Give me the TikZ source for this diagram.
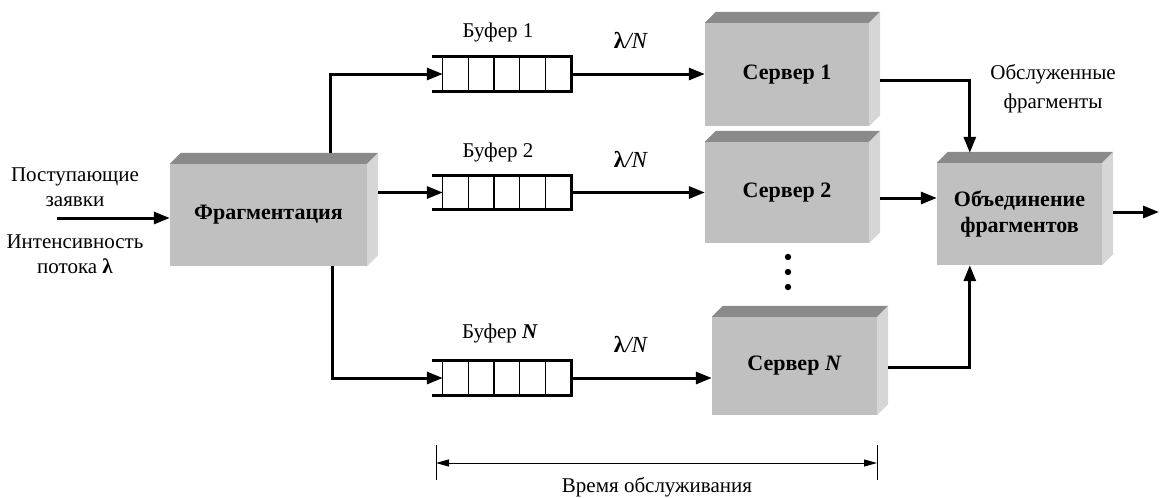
\documentclass[tikz,border=0pt]{standalone}
\usepackage{fontspec}
\setmainfont{Liberation Serif}
\usetikzlibrary{arrows.meta,calc}

\definecolor{frontface}{RGB}{192,192,192}
\definecolor{topface}{RGB}{138,138,138}
\definecolor{sideface}{RGB}{214,214,214}

\tikzset{
  block/.style={fill=frontface, inner sep=0pt, align=center,
    font=\fontsize{22}{26}\selectfont\bfseries},
  bufcell/.style={inner sep=0pt, minimum width=128pt, minimum height=34pt},
  lbl/.style={inner sep=0pt, align=center, font=\fontsize{21}{25}\selectfont},
  rate/.style={inner sep=0pt, font=\fontsize{23}{27}\selectfont},
  arr/.style={line width=3pt, -{Triangle[length=16pt,width=12pt]}},
  dim/.style={line width=1pt, {Triangle[length=13pt,width=7pt]}-{Triangle[length=13pt,width=7pt]}},
}

% 3D block: name, centre x, centre y, width, height, text
\newcommand\blockbox[6]{%
  \node[block, minimum width=#4pt, minimum height=#5pt] (#1) at (#2,#3) {#6};
  \fill[topface] (#1.north west) -- ++(11,-11) -- ($(#1.north east)+(11,-11)$)
    -- (#1.north east) -- cycle;
  \fill[sideface] (#1.north east) -- ++(11,-11) -- ($(#1.south east)+(11,-11)$)
    -- (#1.south east) -- cycle;
}

% queue buffer: name, centre x, centre y
\newcommand\qbuffer[3]{%
  \node[bufcell] (#1) at (#2,#3) {};
  \draw[line width=3pt] ([xshift=-11pt]#1.north west) -- (#1.north east)
    -- (#1.south east) -- ([xshift=-11pt]#1.south west);
  \foreach \i in {0,...,4}
    \draw[line width=1.2pt] ($(#1.north west)+(\i*25.6,0)$) -- ($(#1.south west)+(\i*25.6,0)$);
}

\begin{document}
\begin{tikzpicture}[x=1pt,y=-1pt]
\useasboundingbox (0,0) rectangle (1160,498);

% processing blocks
\blockbox{frag}{268.5}{215}{197}{102}{Фрагментация}
\blockbox{srv1}{787}{74.5}{164}{103}{Сервер 1}
\blockbox{srv2}{787}{192.5}{164}{101}{Сервер 2}
\blockbox{srvN}{794.5}{366}{165}{98}{Сервер \textit{N}}
\blockbox{mrg}{1019.5}{214}{165}{102}{Объединение\\фрагментов}

% buffers
\qbuffer{buf1}{507}{74}
\qbuffer{buf2}{507}{192.5}
\qbuffer{bufN}{507}{378}

% labels
\node[lbl] (inlbl) at (75,187) {Поступающие\\заявки};
\node[lbl] (ratelbl) at (75,254) {Интенсивность\\потока \textbf{λ}};
\node[lbl] (b1lbl) at (498,32) {Буфер 1};
\node[lbl] (b2lbl) at (498,152) {Буфер 2};
\node[lbl] (bNlbl) at (500,333) {Буфер \textbf{\textit{N}}};
\node[rate] (r1) at (631,41) {\textbf{λ}\textit{/N}};
\node[rate] (r2) at (631,160) {\textbf{λ}\textit{/N}};
\node[rate] (rN) at (631,345) {\textbf{λ}\textit{/N}};
\node[lbl, font=\fontsize{21}{29}\selectfont] (donelbl) at (1053,89) {Обслуженные\\фрагменты};

% continuation dots between servers
\foreach \y [count=\k] in {257,272,287}
  \fill (788,\y) circle[radius=3.2pt] coordinate (dot\k);

% incoming requests
\coordinate (src) at (57,218);
\draw[arr] (src) -- (src -| frag.west);

% fragmentation to buffers
\coordinate (fo1) at ($(frag.north west)+(161,-11)$);
\coordinate (fo2) at ($(frag.east)+(11,-22.5)$);
\coordinate (foN) at ($(frag.south west)+(163,0)$);
\draw[arr] (fo1) |- (buf1.west);
\draw[arr] (fo2) -- (fo2 -| buf2.west);
\draw[arr] (foN) |- (bufN.west);

% buffers to servers
\draw[arr] (buf1.east) -- (buf1.east -| srv1.west);
\draw[arr] (buf2.east) -- (buf2.east -| srv2.west);
\draw[arr] (bufN.east) -- (bufN.east -| srvN.west);

% servers to merging block
\coordinate (s1o) at ($(srv1.east)+(11,5.5)$);
\coordinate (s2o) at ($(srv2.east)+(11,5.5)$);
\coordinate (sNo) at ($(srvN.east)+(11,1)$);
\coordinate (mtop) at ($(mrg.north west)+(33,-10)$);
\coordinate (mbot) at ($(mrg.south west)+(33,0)$);
\draw[arr] (s1o) -| (mtop);
\draw[arr] (s2o) -- (s2o -| mrg.west);
\draw[arr] (sNo) -| (mbot);

% merged output
\coordinate (mo) at ($(mrg.east)+(11,-2)$);
\coordinate (out) at (1159,212);
\draw[arr] (mo) -- (out);

% service time span
\coordinate (t1) at (436,463);
\coordinate (t2) at (877,463);
\draw[line width=1pt] (436,445) -- (436,480);
\draw[line width=1pt] (877,445) -- (877,480);
\draw[dim] (t1) -- (t2);
\node[lbl] (timelbl) at (657,487) {Время обслуживания};
\end{tikzpicture}
\end{document}
